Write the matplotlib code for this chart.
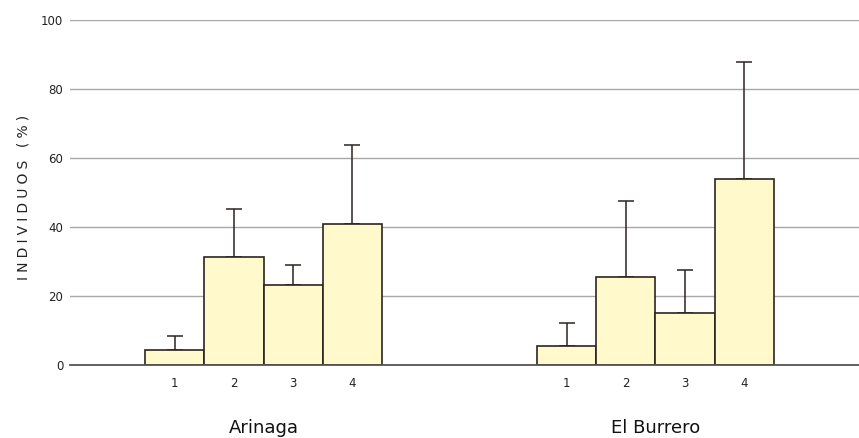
import numpy as np
import matplotlib.pyplot as plt

# datos
grupos = ['Arinaga', 'El Burrero']
clases = ['1', '2', '3', '4']
arinaga = [4.3, 31.4, 23.0, 40.9]
arinaga_err = [4.0, 13.9, 5.9, 22.9]
burrero = [5.4, 25.6, 14.9, 54.0]
burrero_err = [6.7, 21.9, 12.7, 33.8]

relleno = '#fff9cc'
borde = '#2b2520'

fig = plt.figure(figsize=(8.59, 4.38), dpi=100)
ax = fig.add_axes([0.0811, 0.1674, 0.9189, 0.7863])

x1 = np.arange(1, 5)
x2 = x1 + 6.62

for xs, vals, errs in [(x1, arinaga, arinaga_err), (x2, burrero, burrero_err)]:
    ax.bar(xs, vals, width=1.0, color=relleno, edgecolor=borde, linewidth=1.2, zorder=3)
    ax.errorbar(xs, vals, yerr=[np.zeros(4), errs], fmt='none', ecolor=borde,
                elinewidth=1.1, capsize=5.5, capthick=1.1, zorder=2)

ax.set_xlim(-0.775, 12.56)
ax.set_ylim(0, 100)
ax.set_yticks([0, 20, 40, 60, 80, 100])
ax.set_xticks(list(x1) + list(x2))
ax.set_xticklabels(clases + clases)
ax.tick_params(axis='both', length=0, labelsize=8.5, colors='#222222')
ax.tick_params(axis='y', pad=4.5)
ax.tick_params(axis='x', pad=9)
ax.yaxis.grid(True, color='#a8a8a8', linewidth=1.0, zorder=0)
ax.set_axisbelow(True)
for s in ['top', 'right', 'left']:
    ax.spines[s].set_visible(False)
ax.spines['bottom'].set_color('#555555')
ax.spines['bottom'].set_linewidth(1.3)
ax.spines['bottom'].set_zorder(4)

etiqueta = '\u2009\u200a'.join('INDIVIDUOS (%)')
fig.text(0.027, 0.55, etiqueta, rotation=90, ha='center', va='center',
         fontsize=10, color='#222222')

for xs, nombre in [(x1, grupos[0]), (x2, grupos[1])]:
    ax.text(xs.mean(), -18.3, nombre, ha='center', va='center', fontsize=13,
            color='#111111', transform=ax.transData)

fig.savefig('out.png', dpi=100)
